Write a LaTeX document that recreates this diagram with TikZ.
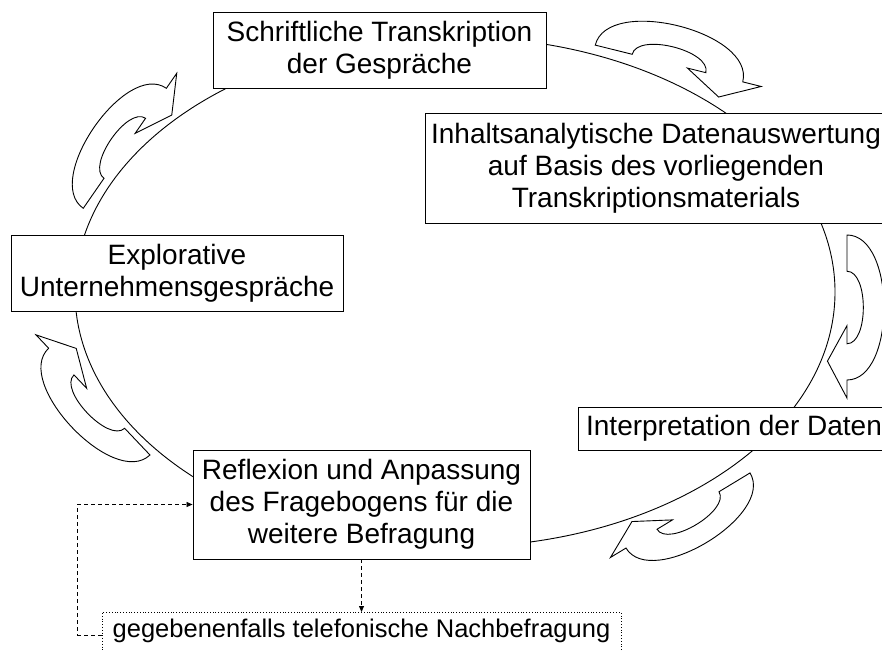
\documentclass[tikz,border=0pt]{standalone}
\usepackage{fontspec}
\setmainfont{Liberation Sans}
\usetikzlibrary{arrows.meta}

\tikzset{
  stage/.style={draw=black, line width=0.9pt, fill=white, align=center, inner sep=0pt,
    font=\fontsize{28}{32}\selectfont},
  extra/.style={draw=black, dotted, line width=0.8pt, fill=white, inner sep=0pt,
    text height=25pt, text depth=20pt, font=\fontsize{25.5}{29}\selectfont},
  link/.style={dash pattern=on 4pt off 3pt, line width=0.8pt, -{Triangle[length=6pt,width=5pt]}},
  bendarrow/.pic={
    \draw[line width=0.9pt, line join=miter, fill=white]
      (-1,0) .. controls (-1,0.68) and (1,0.68) .. (1,0) -- (1.25,0) -- (0.74,-0.27)
      -- (0.25,0) -- (0.5,0) .. controls (0.5,0.3) and (-0.5,0.3) .. (-0.5,0) -- cycle;
  }
}

\begin{document}
\begin{tikzpicture}[x=1pt,y=1pt]
  \useasboundingbox (0,0) rectangle (882,650);
  \clip (0,0) rectangle (882,650);

  \draw[line width=0.9pt] (455,358) ellipse [x radius=380, y radius=255];

  \pic[rotate=-14, scale=76] at (669,586.5) {bendarrow};
  \pic[rotate=-90, scale=72.5] at (847,342.5) {bendarrow};
  \pic[rotate=-148.8, scale=72.5] at (688,139.5) {bendarrow};
  \pic[rotate=133.5, scale=73.6] at (99.3,248.4) {bendarrow};
  \pic[rotate=55.3, scale=73] at (124.8,501.7) {bendarrow};

  \node[stage, minimum width=333pt, minimum height=76pt] (transkr) at (379.5,600)
    {Schriftliche Transkription\\der Gespräche};
  \node[stage, minimum width=462pt, minimum height=110pt] (analyse) at (656,482)
    {Inhaltsanalytische Datenauswertung\\auf Basis des vorliegenden\\Transkriptionsmaterials};
  \node[stage, minimum width=332pt, minimum height=76pt] (explor) at (177,377)
    {Explorative\\Unternehmensgespräche};
  \node[stage, minimum width=312pt, minimum height=43pt] (interpr) at (734,221.5)
    {Interpretation der Daten};
  \node[stage, minimum width=337pt, minimum height=109pt] (reflex) at (361.5,145.5)
    {Reflexion und Anpassung\\des Fragebogens für die\\weitere Befragung};
  \node[extra, minimum width=519pt, anchor=north] (nachbef) at (361.5,38)
    {gegebenenfalls telefonische Nachbefragung};

  \draw[link] (reflex.south) -- (nachbef.north);
  \draw[link] (nachbef.west) -- ++(-24,0) |- (reflex.west);
\end{tikzpicture}
\end{document}
